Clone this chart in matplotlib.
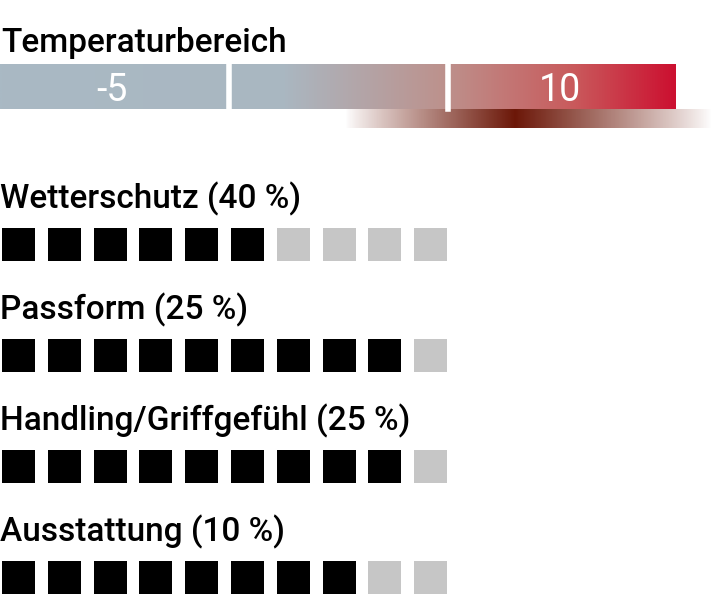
import numpy as np
import matplotlib.pyplot as plt
from matplotlib.colors import LinearSegmentedColormap

plt.rcParams["font.family"] = ["Roboto", "DejaVu Sans"]

title = "Temperaturbereich"
segment_labels = ["-5", "", "10"]
categories = ["Wetterschutz (40 %)", "Passform (25 %)", "Handling/Griffgefühl (25 %)", "Ausstattung (10 %)"]
scores = [6, 9, 9, 8]
max_score = 10

W, H = 712, 612
fig = plt.figure(figsize=(W / 100, H / 100), dpi=100)
ax = fig.add_axes([0, 0, 1, 1])
ax.set_xlim(0, W)
ax.set_ylim(H, 0)
ax.axis("off")

# temperature bar
bar_x0, bar_x1, bar_y0, bar_y1 = 0, 676, 64, 109
seg_edges = [0, 228.5, 447.5, 676]
bar_cmap = LinearSegmentedColormap.from_list(
    "temp",
    [(0, "#a9b9c4"), (0.42, "#aab7c1"), (0.66, "#bd918c"), (0.85, "#c95a5c"), (1.0, "#cc1030")],
)
grad = np.linspace(0, 1, 512).reshape(1, -1)
ax.imshow(grad, cmap=bar_cmap, extent=[bar_x0, bar_x1, bar_y1, bar_y0], aspect="auto", zorder=1)

for i, lab in enumerate(segment_labels):
    if i > 0:
        ax.plot([seg_edges[i]] * 2, [bar_y0, bar_y1], color="white", lw=4, zorder=2)
    if lab:
        ax.text((seg_edges[i] + seg_edges[i + 1]) / 2 - 2, 101, lab, color="white",
                fontsize=27, ha="center", va="baseline", zorder=3)

# dark glow below the bar
glow_x0, glow_peak, glow_x1, glow_y0, glow_y1 = 345, 515, 712, 109, 128
xs = np.linspace(glow_x0, glow_x1, 600)
alpha = np.where(xs < glow_peak,
                 (xs - glow_x0) / (glow_peak - glow_x0),
                 (glow_x1 - xs) / (glow_x1 - glow_peak))
alpha = np.clip(alpha, 0, 1) ** 0.9
rgba = np.zeros((1, xs.size, 4))
rgba[..., 0] = 0.42
rgba[..., 1] = 0.09
rgba[..., 2] = 0.03
rgba[..., 3] = alpha
ax.imshow(rgba, extent=[glow_x0, glow_x1, glow_y1, glow_y0], aspect="auto", zorder=0)

ax.text(1, 52, title, fontsize=24, fontweight="medium", ha="left", va="baseline", color="black")

# score rows
row_base = 208
row_step = 111
sq_pitch = 45.8
sq_size = 33
for r, (cat, sc) in enumerate(zip(categories, scores)):
    base = row_base + r * row_step
    ax.text(0, base, cat, fontsize=24, fontweight="medium", ha="left", va="baseline", color="black")
    xs_sq = 2 + np.arange(max_score) * sq_pitch
    colors = ["black" if k < sc else "#c6c6c6" for k in range(max_score)]
    ax.bar(xs_sq, sq_size, width=sq_size, bottom=base + 20, align="edge", color=colors, zorder=2)

fig.savefig("out.png", dpi=100)
